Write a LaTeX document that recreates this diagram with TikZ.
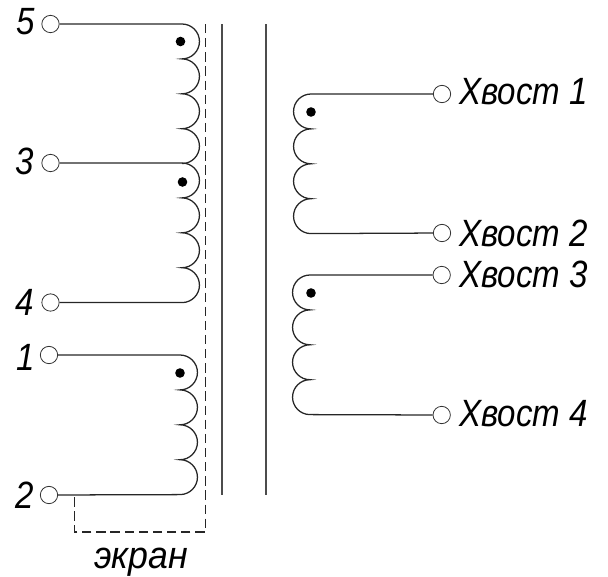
\documentclass[tikz,border=0pt]{standalone}
\usepackage{fontspec}
\setmainfont{Liberation Sans}
\begin{document}
\begin{tikzpicture}[x=0.75pt,y=-0.75pt,
  wire/.style={draw=black!85,line width=0.95pt},
  core/.style={draw=black!70,line width=0.95pt},
  screen/.style={draw=black!85,line width=0.8pt,dash pattern=on 7pt off 3.6pt},
  term/.style={circle,draw=black!80,fill=white,line width=0.6pt,minimum size=13pt,inner sep=0pt},
  phase/.style={circle,fill=black,minimum size=7.2pt,inner sep=0pt},
  lab/.style={font=\fontsize{28.5}{32}\selectfont\itshape,inner sep=0pt,xscale=0.87},
]
\useasboundingbox (0,0) rectangle (608,576);
\def\R{17.45}
% core
\coordinate (ca1) at (222,24); \coordinate (ca2) at (222,495);
\coordinate (cb1) at (266,24); \coordinate (cb2) at (266,495);
\draw[core] (ca1) -- (ca2);
\draw[core] (cb1) -- (cb2);
% terminals
\node[term] (t5) at (50.5,24) {};
\node[term] (t3) at (50.5,163) {};
\node[term] (t4) at (50.5,302.5) {};
\node[term] (t1) at (49,355) {};
\node[term] (t2) at (49,495) {};
\node[term] (x1) at (442,94) {};
\node[term] (x2) at (442,233) {};
\node[term] (x3) at (441.7,275) {};
\node[term] (x4) at (441.7,415) {};
% coil ends
\coordinate (c5) at (182,24);
\coordinate (c3) at (182,163);
\coordinate (c4) at (182,302.5);
\coordinate (c1) at (180,355);
\coordinate (c2) at (180,495);
\coordinate (d1) at (311,94);
\coordinate (d2) at (311,233);
\coordinate (d3) at (310,275);
\coordinate (d4) at (310,415);
\coordinate (s1) at (74.5,495);
\coordinate (s2) at (74.5,532);
\coordinate (s3) at (205.3,532);
\coordinate (s4) at (205.3,24);
% windings
\draw[wire] (t5) -- (c5)
  arc[start angle=-90,end angle=90,radius=\R]
  arc[start angle=-90,end angle=90,radius=\R]
  arc[start angle=-90,end angle=90,radius=\R]
  arc[start angle=-90,end angle=90,radius=\R];
\draw[wire] (t3) -- (c3)
  arc[start angle=-90,end angle=90,radius=\R]
  arc[start angle=-90,end angle=90,radius=\R]
  arc[start angle=-90,end angle=90,radius=\R]
  arc[start angle=-90,end angle=90,radius=\R] -- (t4);
\draw[wire] (t1) -- (c1)
  arc[start angle=-90,end angle=90,radius=\R]
  arc[start angle=-90,end angle=90,radius=\R]
  arc[start angle=-90,end angle=90,radius=\R]
  arc[start angle=-90,end angle=90,radius=\R] -- (t2);
\draw[wire] (x1) -- (d1)
  arc[start angle=-90,end angle=-270,radius=\R]
  arc[start angle=-90,end angle=-270,radius=\R]
  arc[start angle=-90,end angle=-270,radius=\R]
  arc[start angle=-90,end angle=-270,radius=\R] -- (x2);
\draw[wire] (x3) -- (d3)
  arc[start angle=-90,end angle=-270,radius=\R]
  arc[start angle=-90,end angle=-270,radius=\R]
  arc[start angle=-90,end angle=-270,radius=\R]
  arc[start angle=-90,end angle=-270,radius=\R] -- (x4);
% screen
\draw[screen] (s4) -- (s3) -- (s2) -- (s1);
% phase dots
\node[phase] (p1) at (180.5,41.5) {};
\node[phase] (p2) at (182.5,182) {};
\node[phase] (p3) at (180,373) {};
\node[phase] (p4) at (311,112) {};
\node[phase] (p5) at (311,293) {};
% labels
\node[lab,anchor=east] (l5) at (35,21.5) {5};
\node[lab,anchor=east] (l3) at (34,161.5) {3};
\node[lab,anchor=east] (l4) at (34,302.5) {4};
\node[lab,anchor=east] (l1) at (35,357) {1};
\node[lab,anchor=east] (l2) at (34,495) {2};
\node[lab,anchor=west] (h1) at (459,92) {Хвост 1};
\node[lab,anchor=west] (h2) at (459,233) {Хвост 2};
\node[lab,anchor=west] (h3) at (459,274) {Хвост 3};
\node[lab,anchor=west] (h4) at (459,414) {Хвост 4};
\node[lab,anchor=base,xscale=1.08] (ek) at (141,568) {экран};
\end{tikzpicture}
\end{document}
